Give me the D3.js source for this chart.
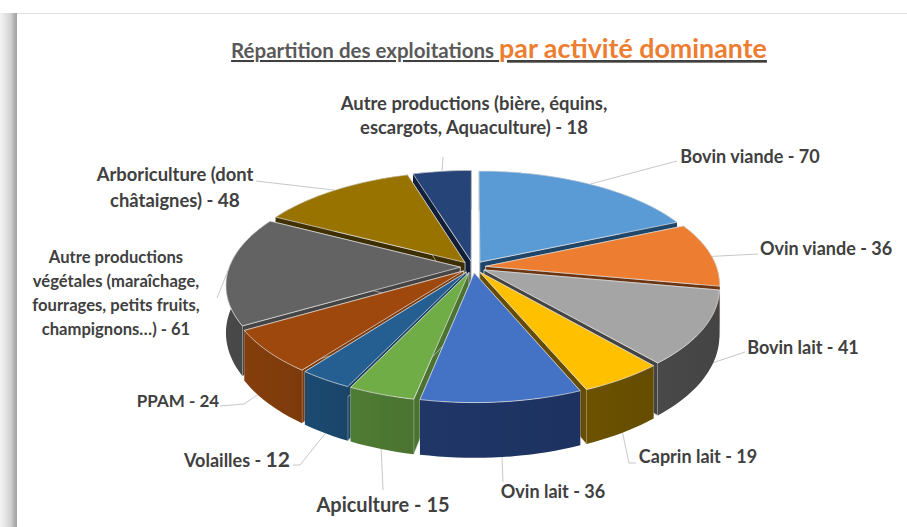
<!DOCTYPE html>
<html>
<head>
<meta charset="utf-8">
<script src="https://cdn.jsdelivr.net/npm/d3@7"></script>
<style>
  body { margin: 0; background: #fff; }
  text { font-family: Lato, sans-serif; font-weight: 700; fill: #404040; }
</style>
</head>
<body>
<div id="my_dataviz"></div>
<script>
// values, clockwise from the top
var categories = [
  ["Bovin viande"],
  ["Ovin viande"],
  ["Bovin lait"],
  ["Caprin lait"],
  ["Ovin lait"],
  ["Apiculture"],
  ["Volailles"],
  ["PPAM"],
  ["Autre productions", "végétales (maraîchage,", "fourrages, petits fruits,", "champignons…)"],
  ["Arboriculture (dont", "châtaignes)"],
  ["Autre productions (bière, équins,", "escargots, Aquaculture)"]
];
var values = [70, 36, 41, 19, 36, 15, 12, 24, 61, 48, 18];
var topColors = ["#5b9bd5", "#ed7d31", "#a5a5a5", "#ffc000", "#4472c4", "#70ad47", "#255e91", "#9e480e", "#636363", "#997300", "#264478"];
var sideColors = ["#1f4668", "#6b3512", "#444444", "#654c00", "#1d3260", "#4a7330", "#1a4569", "#7c3a0b", "#444444", "#3d2e00", "#101e38"];

// label placement: center x, first baseline, size, size of the number, where the leader ends, how far down the wall it lands
var labelLayout = [
  {x: 750, y: 163, size: 18, vsize: 18, lead: [[677, 161]], drop: 0},
  {x: 826, y: 255, size: 18, vsize: 18, lead: [[758, 254]], drop: 0.05},
  {x: 803, y: 354, size: 18, vsize: 18, lead: [[745, 352]], drop: 0.75},
  {x: 698, y: 463, size: 18, vsize: 18, lead: [[636, 463], [629, 463]], drop: 1},
  {x: 553, y: 498, size: 18, vsize: 18, lead: [[503, 482]], drop: 1},
  {x: 383, y: 512, size: 20, vsize: 20, lead: [[383, 490]], drop: 1},
  {x: 237, y: 467, size: 18, vsize: 21, lead: [[293, 465], [300, 465]], drop: 1},
  {x: 178, y: 407, size: 17, vsize: 17, lead: [[220, 406], [244, 404]], drop: 0.7},
  {x: 116, y: 263, size: 16.6, vsize: 16.6, lead: [[217, 298]], drop: 0},
  {x: 175, y: 181, size: 18.4, vsize: 19, lead: [[256, 181]], drop: 0},
  {x: 474, y: 110, size: 18.4, vsize: 18.4, lead: [[443, 157]], drop: 0}
];

var width = 907;
var height = 527;

// 3D pie geometry
var cx = 473;
var cy = 267;
var rx = 231;
var ry = 107;
var persp = 0.159;
var depth = 46;
var explode = 0.055;

var svg = d3.select("#my_dataviz")
  .append("svg")
    .attr("width", width)
    .attr("height", height)
    .style("display", "block");

var defs = svg.append("defs");

// grey band on the left edge of the slide
var band = defs.append("linearGradient").attr("id", "band");
[[0, "#f4f4f4"], [0.3, "#e6e6e6"], [0.65, "#cfcfcf"], [0.85, "#aeaeae"], [1, "#a2a2a2"]].forEach(function(s) {
  band.append("stop").attr("offset", s[0]).attr("stop-color", s[1]);
});
svg.append("rect").attr("x", 0).attr("y", 13).attr("width", 17).attr("height", height - 13).attr("fill", "url(#band)");
svg.append("line").attr("x1", 17).attr("x2", width).attr("y1", 13.5).attr("y2", 13.5).attr("stroke", "#e2e2e2");

// title
var title = svg.append("text").attr("x", 499).attr("y", 58).attr("text-anchor", "middle").attr("text-decoration", "underline");
title.append("tspan").text("Répartition des exploitations ").style("font-size", "20.5px").style("fill", "#595959");
title.append("tspan").text("par activité dominante").style("font-size", "26.8px").style("fill", "#ed7d31");

var pie = d3.pie().sort(null).value(function(d) { return d; });
var slices = pie(values);

// point of the tilted disc: angle t, radius r (0..1), height z (0 top, 1 bottom)
function project(d, t, r, z) {
  var mid = (d.startAngle + d.endAngle) / 2;
  var u = explode * Math.sin(mid) + r * Math.sin(t);
  var v = -explode * Math.cos(mid) - r * Math.cos(t);
  var s = 1 / (1 - persp * v);
  return [cx + rx * u * s, cy + ry * v * s + depth * z * s];
}

function arcPoints(d, z) {
  var n = Math.max(2, Math.ceil((d.endAngle - d.startAngle) * 30));
  return d3.range(n + 1).map(function(i) {
    return project(d, d.startAngle + (d.endAngle - d.startAngle) * i / n, 1, z);
  });
}

var line = d3.line();

function midV(d) {
  return -Math.cos((d.startAngle + d.endAngle) / 2);
}

// leaders go under the pie
labelLayout.forEach(function(l, i) {
  var d = slices[i];
  var p = project(d, (d.startAngle + d.endAngle) / 2, 1, l.drop);
  svg.append("path")
    .attr("d", line(l.lead.concat([p])))
    .attr("fill", "none")
    .attr("stroke", "#c8c8c8")
    .attr("stroke-width", 1);
});

// painter's order, back slices first
var order = d3.range(slices.length).sort(function(a, b) { return midV(slices[a]) - midV(slices[b]); });

order.forEach(function(i) {
  var d = slices[i];
  var g = svg.append("g");
  var side = sideColors[i];

  var grad = defs.append("linearGradient").attr("id", "wall" + i);
  grad.append("stop").attr("offset", 0).attr("stop-color", d3.color(side).brighter(0.2));
  grad.append("stop").attr("offset", 1).attr("stop-color", side);

  // cut faces
  [d.startAngle, d.endAngle].forEach(function(t) {
    g.append("path")
      .attr("d", line([project(d, t, 0, 0), project(d, t, 1, 0), project(d, t, 1, 1), project(d, t, 0, 1)]) + "Z")
      .attr("fill", side)
      .attr("stroke", "#d8d8d8")
      .attr("stroke-width", 0.6);
  });

  // outer wall
  var wall = arcPoints(d, 0).concat(arcPoints(d, 1).reverse());
  g.append("path")
    .attr("d", line(wall) + "Z")
    .attr("fill", "url(#wall" + i + ")");

  // top face
  var top = [project(d, 0, 0, 0)].concat(arcPoints(d, 0));
  g.append("path")
    .attr("d", line(top) + "Z")
    .attr("fill", topColors[i])
    .attr("stroke", "#e4e4e4")
    .attr("stroke-width", 0.7)
    .attr("stroke-linejoin", "round");
});

// labels
labelLayout.forEach(function(l, i) {
  var t = svg.append("text")
    .attr("text-anchor", "middle")
    .attr("y", l.y)
    .style("font-size", l.size + "px");
  var lines = categories[i];
  lines.forEach(function(str, j) {
    var last = j === lines.length - 1;
    t.append("tspan")
      .attr("x", l.x)
      .attr("y", l.y + j * (l.vsize > l.size ? 26 : 24))
      .text(last ? str + " - " : str);
    if (last) t.append("tspan").style("font-size", l.vsize + "px").text(values[i]);
  });
});
</script>
</body>
</html>
